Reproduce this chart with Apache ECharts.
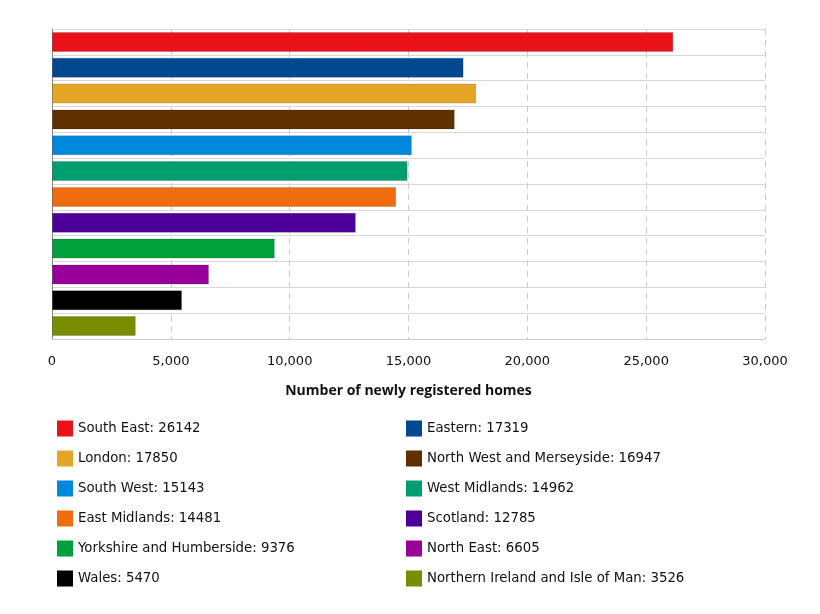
<!DOCTYPE html>
<html><head><meta charset="utf-8">
<script src="https://cdn.jsdelivr.net/npm/echarts@6/dist/echarts.min.js"></script>
<style>html,body{margin:0;padding:0;background:#fff}#c{width:820px;height:614px}</style>
</head><body><div id="c"></div>
<script>
const categories = ["South East","Eastern","London","North West and Merseyside","South West","West Midlands","East Midlands","Scotland","Yorkshire and Humberside","North East","Wales","Northern Ireland and Isle of Man"];
const values = [26142,17319,17850,16947,15143,14962,14481,12785,9376,6605,5470,3526];
const colors = ["#eb1118","#004890","#e5a626","#5e3000","#0088dd","#009e6e","#ef6c10","#4c0099","#00a03a","#990099","#000000","#7a8c00"];
const xTicks = [0,5000,10000,15000,20000,25000,30000];

const series = categories.map((name,i)=>({
  name: name,
  type: 'bar',
  stack: 'total',
  barWidth: 20,
  data: categories.map((c,j)=> j===i ? values[i] : '-'),
  itemStyle: {color: colors[i], borderColor: 'rgba(0,0,0,0.15)', borderWidth: 1},
  emphasis: {disabled: true}
}));

const leftNames = categories.filter((c,i)=>i%2===0);
const rightNames = categories.filter((c,i)=>i%2===1);
const legendBase = {
  orient: 'vertical', top: 414, height: 195, itemWidth: 16, itemHeight: 16, itemGap: 11,
  icon: 'rect', selectedMode: false,
  itemStyle: {borderWidth: 0},
  textStyle: {fontFamily: 'DejaVu Sans', fontSize: 13.3, color: '#111', lineHeight: 16, padding: [3,0,0,0]},
  formatter: name => name + ': ' + values[categories.indexOf(name)]
};

const chart = echarts.init(document.getElementById('c'));
chart.setOption({
  animation: false,
  color: colors,
  grid: {left: 52, right: 55, top: 29, height: 310},
  xAxis: {
    type: 'value', min: 0, max: 30000, interval: 5000,
    axisLine: {show: true, lineStyle: {color: '#ccc'}},
    axisTick: {show: false},
    axisLabel: {fontFamily: 'DejaVu Sans', fontSize: 13, color: '#111', margin: 16,
      formatter: v => xTicks.includes(v) ? v.toLocaleString('en-US') : ''},
    splitLine: {show: true, lineStyle: {color: '#ccc', type: [6,5]}},
    name: 'Number of newly registered homes', nameLocation: 'middle', nameGap: 45,
    nameTextStyle: {fontFamily: 'Open Sans', fontWeight: 'bold', fontSize: 14, color: '#111'}
  },
  yAxis: {
    type: 'category', data: categories, inverse: true,
    axisLine: {show: true, lineStyle: {color: '#888'}},
    axisTick: {show: false},
    axisLabel: {show: false},
    splitLine: {show: true, lineStyle: {color: '#d8d8d8'}}
  },
  legend: [
    Object.assign({}, legendBase, {left: 52, data: leftNames}),
    Object.assign({}, legendBase, {left: 401, data: rightNames})
  ],
  series: series
});
</script></body></html>
